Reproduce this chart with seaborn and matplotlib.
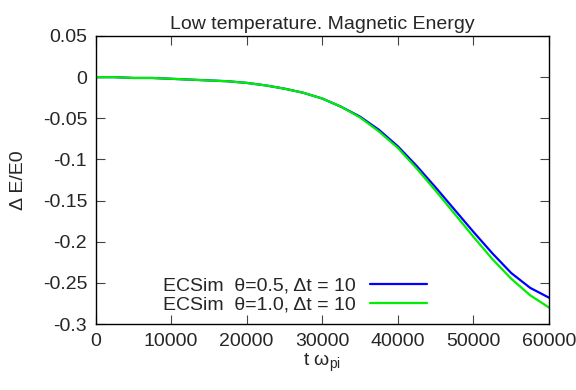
import numpy as np
import pandas as pd
import matplotlib
matplotlib.use('Agg')
import matplotlib.pyplot as plt
import seaborn as sns

# ===================[[ data ]]=================

t_wpi = [0, 2500, 5000, 7500, 10000, 12500, 15000, 17500, 20000, 22500,
         25000, 27500, 30000, 32500, 35000, 37500, 40000, 42500, 45000,
         47500, 50000, 52500, 55000, 57500, 60000]

dE_theta05 = [0.000, 0.000, -0.001, -0.001, -0.002, -0.003, -0.004, -0.005,
              -0.007, -0.010, -0.014, -0.019, -0.026, -0.036, -0.048, -0.064,
              -0.084, -0.108, -0.134, -0.161, -0.188, -0.214, -0.238, -0.256,
              -0.268]

dE_theta10 = [0.000, 0.000, -0.001, -0.001, -0.002, -0.003, -0.004, -0.005,
              -0.007, -0.010, -0.014, -0.019, -0.026, -0.036, -0.049, -0.066,
              -0.086, -0.111, -0.138, -0.166, -0.194, -0.221, -0.245, -0.265,
              -0.280]

labels = ['ECSim  θ=0.5, Δt = 10', 'ECSim  θ=1.0, Δt = 10']
colors = ['#0000ff', '#00ee00']

x_ticks = [0, 10000, 20000, 30000, 40000, 50000, 60000]
y_ticks = [0.05, 0, -0.05, -0.1, -0.15, -0.2, -0.25, -0.3]
y_ticklabels = ['0.05', '0', '-0.05', '-0.1', '-0.15', '-0.2', '-0.25', '-0.3']

df = pd.DataFrame({
    't': t_wpi * 2,
    'dE': dE_theta05 + dE_theta10,
    'run': [labels[0]] * len(t_wpi) + [labels[1]] * len(t_wpi),
})

# ========================[[ style ]]============================

sns.set_style('ticks')
plt.rcParams['font.family'] = ['Liberation Sans', 'DejaVu Sans']
plt.rcParams['mathtext.fontset'] = 'custom'
plt.rcParams['mathtext.rm'] = 'Liberation Sans'
plt.rcParams['mathtext.it'] = 'Liberation Sans'

fs = 14

fig = plt.figure(figsize=(5.76, 3.9), dpi=100)
ax = fig.add_axes([0.1658, 0.1692, 0.7873, 0.7385])

sns.lineplot(data=df, x='t', y='dE', hue='run', palette=colors,
             linewidth=1.6, ax=ax, legend=False)

ax.set_xlim(0, 60000)
ax.set_ylim(-0.3, 0.05)
ax.set_xticks(x_ticks)
ax.set_xticklabels([str(v) for v in x_ticks])
ax.set_yticks(y_ticks)
ax.set_yticklabels(y_ticklabels)

ax.tick_params(direction='in', length=6.5, width=0.8, color='#444444',
               top=True, right=True, labelsize=fs)
ax.tick_params(axis='x', pad=6.5)
ax.tick_params(axis='y', pad=6)
for sp in ax.spines.values():
    sp.set_color('black')
    sp.set_linewidth(1.0)

ax.set_xlabel(r't ω$_{\rm pi}$', fontsize=fs, labelpad=1)
ax.set_ylabel('Δ E/E0', fontsize=fs, labelpad=11)
ax.set_title('Low temperature. Magnetic Energy', fontsize=fs, pad=5)

handles = [plt.Line2D([], [], color=c, linewidth=1.6) for c in colors]
ax.legend(handles, labels, loc='center', bbox_to_anchor=(0.44, 0.10),
          frameon=False, markerfirst=False, fontsize=fs, borderpad=0,
          borderaxespad=0, handlelength=2.95, handletextpad=0.72,
          labelspacing=0.05)

plt.savefig('out.png', dpi=100)
plt.close()
